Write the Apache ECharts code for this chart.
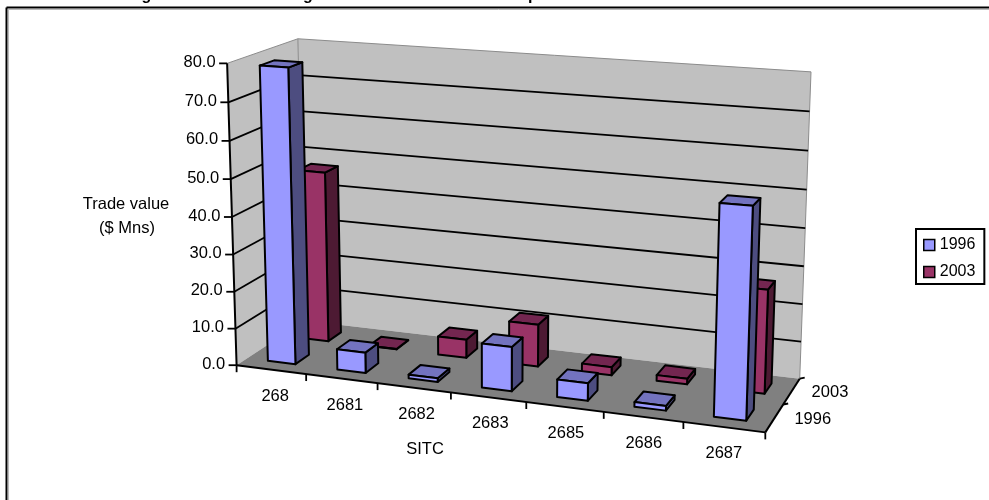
<!DOCTYPE html>
<html>
<head>
<meta charset="utf-8">
<style>html,body{margin:0;padding:0;background:#fff}#chart{width:989px;height:500px}</style>
<script src="https://cdn.jsdelivr.net/npm/echarts@6/dist/echarts.min.js"></script>
</head>
<body>
<div id="chart"></div>
<script>
// Trade values in $ Mns by SITC code
const categories = ['268', '2681', '2682', '2683', '2685', '2686', '2687'];
const years = ['1996', '2003'];
const values1996 = [78.8, 5.5, 1, 11.7, 4.6, 1.2, 53.5];
const values2003 = [47, 0.1, 5, 11.4, 2.2, 1.5, 27.2];
const valueTicks = [0, 10, 20, 30, 40, 50, 60, 70, 80];

const FONT = '"Liberation Sans", Arial, sans-serif';
const FONT_SIZE = 16.5;
const VALUE_MAX = 80;
const BAR_FRACTION = 0.4;          // share of a category slot / depth slot filled by a bar

// Camera calibration: unit-cube corner -> canvas pixel
const cubeCorners = [
  [0, 0, 0, 237, 365], [1, 0, 0, 765, 433], [1, 1, 0, 800, 378], [0, 1, 0, 304, 321],
  [0, 0, 1, 227, 63], [0, 1, 1, 298, 39], [1, 1, 1, 811, 72]
];

// Least-squares fit of a projective camera to the corners above
function fitCamera(pts) {
  const n = 11, A = [];
  for (let i = 0; i < n; i++) A.push(new Array(n + 1).fill(0));
  const add = (row, rhs) => {
    for (let i = 0; i < n; i++) {
      for (let j = 0; j < n; j++) A[i][j] += row[i] * row[j];
      A[i][n] += row[i] * rhs;
    }
  };
  pts.forEach(([x, y, z, u, v]) => {
    add([x, y, z, 1, 0, 0, 0, 0, -u * x, -u * y, -u * z], u);
    add([0, 0, 0, 0, x, y, z, 1, -v * x, -v * y, -v * z], v);
  });
  for (let c = 0; c < n; c++) {
    let p = c;
    for (let r = c + 1; r < n; r++) if (Math.abs(A[r][c]) > Math.abs(A[p][c])) p = r;
    [A[c], A[p]] = [A[p], A[c]];
    for (let r = 0; r < n; r++) {
      if (r === c) continue;
      const f = A[r][c] / A[c][c];
      for (let k = c; k <= n; k++) A[r][k] -= f * A[c][k];
    }
  }
  return A.map((row, i) => row[n] / row[i]);
}
const cam = fitCamera(cubeCorners);
function project(x, y, z) {
  const w = cam[8] * x + cam[9] * y + cam[10] * z + 1;
  return [
    (cam[0] * x + cam[1] * y + cam[2] * z + cam[3]) / w,
    (cam[4] * x + cam[5] * y + cam[6] * z + cam[7]) / w
  ];
}

const poly = (points, fill, stroke, lineWidth) => ({
  type: 'polygon',
  shape: { points },
  style: { fill, stroke: stroke || null, lineWidth: lineWidth || 0, lineJoin: 'round' }
});
const line = (a, b, stroke, lineWidth) => ({
  type: 'line',
  shape: { x1: a[0], y1: a[1], x2: b[0], y2: b[1] },
  style: { stroke, lineWidth }
});
const label = (x, y, text, align) => ({
  type: 'text',
  style: { x, y, text, fill: '#000', font: FONT_SIZE + 'px ' + FONT, textAlign: align || 'center', textVerticalAlign: 'middle' }
});

// Walls, floor, gridlines, ticks and axis text of the 3D box
function renderBox() {
  const children = [];
  const P = project;
  children.push(poly([P(0, 0, 0), P(0, 1, 0), P(0, 1, 1), P(0, 0, 1)], '#c0c0c0'));
  children.push(poly([P(0, 1, 0), P(1, 1, 0), P(1, 1, 1), P(0, 1, 1)], '#c0c0c0'));
  children.push(poly([P(0, 0, 0), P(1, 0, 0), P(1, 1, 0), P(0, 1, 0)], '#808080'));
  children.push(line(P(0, 0, 1), P(0, 1, 1), '#8c8c8c', 1));
  children.push(line(P(0, 1, 1), P(1, 1, 1), '#8c8c8c', 1));
  children.push(line(P(0, 1, 0), P(0, 1, 1), '#8c8c8c', 1));
  children.push(line(P(1, 1, 0), P(1, 1, 1), '#8c8c8c', 1));

  valueTicks.forEach(t => {
    const z = t / VALUE_MAX;
    if (t > 0 && t < VALUE_MAX) {
      children.push(line(P(0, 0, z), P(0, 1, z), '#000', 1.8));
      children.push(line(P(0, 1, z), P(1, 1, z), '#000', 1.8));
    }
    const a = P(0, 0, z);
    children.push(line([a[0] - 8, a[1]], a, '#000', 1.8));
    children.push(label(a[0] - 11.5, a[1] - 1, t.toFixed(1), 'right'));
  });
  children.push(line(P(0, 0, 0), P(0, 0, 1), '#000', 2));
  children.push(line(P(0, 0, 0), P(1, 0, 0), '#000', 2));
  children.push(line(P(1, 0, 0), P(1, 1, 0), '#000', 2));

  categories.forEach((c, i) => {
    const a = P(i / categories.length, 0, 0);
    children.push(line(a, [a[0], a[1] + 7], '#000', 1.8));
    const m = P((i + 0.5) / categories.length, 0, 0);
    children.push(label(m[0] + 4 - i * 0.7, m[1] + 26.5, c));
  });
  const e = P(1, 0, 0);
  children.push(line(e, [e[0], e[1] + 7], '#000', 1.8));
  [0.5, 1].forEach(d => {
    const a = P(1, d, 0);
    children.push(line(a, [a[0] + 5, a[1] - 1], '#000', 1.8));
  });
  years.forEach((y, i) => {
    const a = P(1, (i + 0.5) / years.length, 0);
    children.push(label(a[0] + 20, a[1] + 1, y, 'left'));
  });
  children.push(label(425, 449, 'SITC'));
  children.push(label(126, 204, 'Trade value'));
  children.push(label(127, 228, '($ Mns)'));
  return { type: 'group', children };
}

// One 3D column: category index and value come in through the series' encode
function renderBar(row, colors) {
  return function (params, api) {
    const cat = api.value(0), val = api.value(1);
    const nx = categories.length, ny = years.length;
    const inset = (1 - BAR_FRACTION) / 2;
    const x0 = (cat + inset) / nx, x1 = (cat + 1 - inset) / nx;
    const y0 = (row + inset) / ny, y1 = (row + 1 - inset) / ny;
    const z = val / VALUE_MAX;
    const P = project, S = '#000', W = 2;
    return {
      type: 'group',
      children: [
        poly([P(x1, y0, 0), P(x1, y1, 0), P(x1, y1, z), P(x1, y0, z)], colors.side, S, W),
        poly([P(x0, y0, z), P(x1, y0, z), P(x1, y1, z), P(x0, y1, z)], colors.top, S, W),
        poly([P(x0, y0, 0), P(x1, y0, 0), P(x1, y0, z), P(x0, y0, z)], colors.front, S, W)
      ]
    };
  };
}

const palette = {
  '1996': { front: '#9999ff', top: '#7373bf', side: '#4d4d80' },
  '2003': { front: '#993366', top: '#732650', side: '#4d1a33' }
};
const toPairs = vals => vals.map((v, i) => [i, v]);

const chart = echarts.init(document.getElementById('chart'), null, { renderer: 'canvas' });
chart.setOption({
  animation: false,
  backgroundColor: '#fff',
  grid: { left: 0, right: 0, top: 0, bottom: 0 },
  xAxis: { type: 'value', min: 0, max: categories.length, show: false },
  yAxis: { type: 'value', min: 0, max: VALUE_MAX, show: false },
  legend: {
    left: 916, top: 229, orient: 'vertical',
    padding: [7, 9, 3, 7], itemGap: 9,
    itemWidth: 11, itemHeight: 11,
    borderColor: '#000', borderWidth: 2, backgroundColor: '#fff',
    textStyle: { fontFamily: FONT, fontSize: 16, lineHeight: 18, color: '#000' },
    data: [
      { name: '1996', icon: 'rect', itemStyle: { color: palette['1996'].front, borderColor: '#000', borderWidth: 1.5 } },
      { name: '2003', icon: 'rect', itemStyle: { color: palette['2003'].front, borderColor: '#000', borderWidth: 1.5 } }
    ]
  },
  graphic: [
    // Chart-area frame, and the descenders of the heading that runs off the top edge
    { type: 'line', silent: true, shape: { x1: 6.5, y1: 500, x2: 6.5, y2: 7.5 }, style: { stroke: '#000', lineWidth: 2 } },
    { type: 'line', silent: true, shape: { x1: 6.5, y1: 7.5, x2: 989, y2: 7.5 }, style: { stroke: '#000', lineWidth: 2 } },
    { type: 'line', silent: true, shape: { x1: 8.5, y1: 500, x2: 8.5, y2: 9 }, style: { stroke: '#bbb', lineWidth: 1 } },
    { type: 'line', silent: true, shape: { x1: 8, y1: 9.5, x2: 989, y2: 9.5 }, style: { stroke: '#bbb', lineWidth: 1 } },
    { type: 'text', silent: true, style: { x: 146.5, y: -12, text: 'g', fill: '#000', font: 'bold 16px ' + FONT, textAlign: 'center', textVerticalAlign: 'top' } },
    { type: 'text', silent: true, style: { x: 308, y: -12, text: 'g', fill: '#000', font: 'bold 16px ' + FONT, textAlign: 'center', textVerticalAlign: 'top' } },
    { type: 'text', silent: true, style: { x: 533, y: -12, text: 'p', fill: '#000', font: 'bold 16px ' + FONT, textAlign: 'center', textVerticalAlign: 'top' } }
  ],
  series: [
    {
      type: 'custom', name: 'box', silent: true, z: 1, clip: false,
      coordinateSystem: 'cartesian2d', encode: { x: 0, y: 1 },
      data: [[0, 0]], renderItem: renderBox
    },
    {
      type: 'custom', name: '2003', z: 2, clip: false,
      coordinateSystem: 'cartesian2d', encode: { x: 0, y: 1 },
      itemStyle: { color: palette['2003'].front },
      data: toPairs(values2003), renderItem: renderBar(1, palette['2003'])
    },
    {
      type: 'custom', name: '1996', z: 3, clip: false,
      coordinateSystem: 'cartesian2d', encode: { x: 0, y: 1 },
      itemStyle: { color: palette['1996'].front },
      data: toPairs(values1996), renderItem: renderBar(0, palette['1996'])
    }
  ]
});
</script>
</body>
</html>
